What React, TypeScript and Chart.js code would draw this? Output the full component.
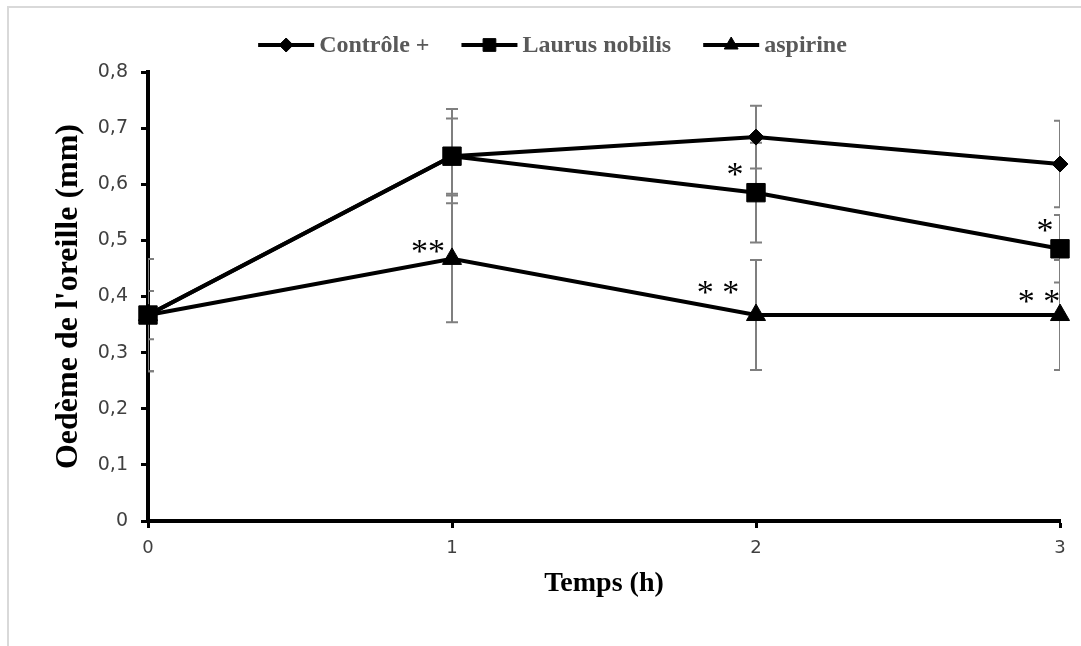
import React, { useEffect, useRef } from "react";
import { Chart, registerables } from "chart.js";
import { drawPoint } from "chart.js/helpers";

Chart.register(...registerables);

// ---------- data ----------
const times = [0, 1, 2, 3];
const seriesNames = ["Contrôle +", "Laurus nobilis", "aspirine"];
const controle = [0.367, 0.65, 0.684, 0.636];
const laurus = [0.367, 0.65, 0.585, 0.485];
const aspirine = [0.367, 0.467, 0.367, 0.367];
const controleErr = [0.1, 0.084, 0.056, 0.077];
const laurusErr = [0.043, 0.067, 0.089, 0.06];
const aspirineErr = [0.1, 0.113, 0.098, 0.098];
const xTickLabels = ["0", "1", "2", "3"];
const yTickLabels = ["0", "0,1", "0,2", "0,3", "0,4", "0,5", "0,6", "0,7", "0,8"];
const sigSeries = [2, 1, 2, 1, 2];
const sigIndex = [1, 2, 2, 3, 3];
const sigText = ["**", "*", "* *", "*", "* *"];
const xTitle = "Temps (h)";
const yTitle = "Oedème de l'oreille (mm)";

// ---------- styles ----------
const seriesValues = [controle, laurus, aspirine];
const seriesErrors = [controleErr, laurusErr, aspirineErr];
const pointStyles = ["rectRot", "rect", "triangle"];
const pointRadii = [8, 13, 11];
const legendRadii = [7, 9, 8];
const sigFontSize = 34;
const sigOffsets = [
  [-24, -14],
  [-21, -24],
  [-38, -29],
  [-15, -24],
  [-21, -20],
];

const customPlugin = {
  id: "custom",
  beforeDatasetsDraw(chart: any) {
    const { ctx, chartArea } = chart;
    const xs = chart.scales.x;
    const ys = chart.scales.y;
    ctx.save();
    ctx.beginPath();
    ctx.rect(chartArea.left, chartArea.top - 30, chartArea.right - chartArea.left, chartArea.bottom - chartArea.top + 60);
    ctx.clip();
    ctx.strokeStyle = "#7f7f7f";
    ctx.lineWidth = 2;
    seriesValues.forEach((vals, s) => {
      vals.forEach((v, i) => {
        const e = seriesErrors[s][i];
        const px = xs.getPixelForValue(times[i]);
        const top = ys.getPixelForValue(v + e);
        const bot = ys.getPixelForValue(v - e);
        ctx.beginPath();
        ctx.moveTo(px, top);
        ctx.lineTo(px, bot);
        ctx.moveTo(px - 6, top);
        ctx.lineTo(px + 6, top);
        ctx.moveTo(px - 6, bot);
        ctx.lineTo(px + 6, bot);
        ctx.stroke();
      });
    });
    ctx.restore();
  },
  afterDraw(chart: any) {
    const { ctx, chartArea, width } = chart;
    const xs = chart.scales.x;
    const ys = chart.scales.y;
    ctx.save();
    // significance asterisks
    ctx.fillStyle = "#000";
    ctx.font = `${sigFontSize}px 'Liberation Serif', serif`;
    ctx.textAlign = "center";
    ctx.textBaseline = "alphabetic";
    sigText.forEach((t, k) => {
      const s = sigSeries[k];
      const i = sigIndex[k];
      const px = xs.getPixelForValue(times[i]) + sigOffsets[k][0];
      const py = ys.getPixelForValue(seriesValues[s][i]) + sigOffsets[k][1];
      ctx.fillText(t, px, py + sigFontSize * 0.49);
    });
    // axis titles
    ctx.font = "bold 28px 'Liberation Serif', serif";
    ctx.textBaseline = "middle";
    ctx.fillText(xTitle, (chartArea.left + chartArea.right) / 2, 584);
    ctx.save();
    ctx.translate(69, (chartArea.top + chartArea.bottom) / 2);
    ctx.rotate(-Math.PI / 2);
    ctx.font = "bold 32px 'Liberation Serif', serif";
    ctx.fillText(yTitle, 0, 0);
    ctx.restore();
    // legend
    ctx.font = "bold 24px 'Liberation Serif', serif";
    const lineLen = 56;
    const gap = 5;
    const spacing = 32;
    const widths = seriesNames.map((n) => ctx.measureText(n).width);
    const total = widths.reduce((a, b) => a + b, 0) + seriesNames.length * (lineLen + gap) + spacing * (seriesNames.length - 1);
    let x = width / 2 + 12 - total / 2;
    const ly = 45;
    seriesNames.forEach((n, s) => {
      ctx.strokeStyle = "#000";
      ctx.lineWidth = 4;
      ctx.beginPath();
      ctx.moveTo(x, ly);
      ctx.lineTo(x + lineLen, ly);
      ctx.stroke();
      ctx.fillStyle = "#000";
      ctx.lineWidth = 1;
      drawPoint(ctx, { pointStyle: pointStyles[s], radius: legendRadii[s], rotation: 0, borderWidth: 1 } as any, x + lineLen / 2, ly);
      ctx.fillStyle = "#595959";
      ctx.textAlign = "left";
      ctx.textBaseline = "middle";
      ctx.fillText(n, x + lineLen + gap, ly + 1);
      x += lineLen + gap + widths[s] + spacing;
    });
    ctx.restore();
  },
};

export default function App() {
  const ref = useRef<HTMLCanvasElement | null>(null);
  useEffect(() => {
    if (!ref.current) return;
    const chart = new Chart(ref.current, {
      type: "line",
      data: {
        datasets: seriesNames.map((name, s) => ({
          label: name,
          data: times.map((t, i) => ({ x: t, y: seriesValues[s][i] })),
          borderColor: "#000",
          backgroundColor: "#000",
          borderWidth: 4,
          pointStyle: pointStyles[s] as any,
          pointRadius: pointRadii[s],
          pointBackgroundColor: "#000",
          pointBorderColor: "#000",
          pointBorderWidth: 1,
          tension: 0,
          clip: false as any,
        })),
      },
      options: {
        animation: false,
        responsive: false,
        devicePixelRatio: 1,
        layout: { padding: { top: 72, right: 21, left: 0, bottom: 0 } },
        plugins: { legend: { display: false }, tooltip: { enabled: false } },
        scales: {
          x: {
            type: "linear",
            min: 0,
            max: 3,
            afterFit: (scale: any) => {
              scale.height = 125;
            },
            ticks: {
              stepSize: 1,
              padding: 10,
              color: "#404040",
              font: { family: "'DejaVu Sans', sans-serif", size: 18 },
              callback: (v: any) => xTickLabels[Math.round(Number(v))],
            },
            grid: { display: true, drawOnChartArea: false, drawTicks: true, tickLength: 7, tickWidth: 3, tickColor: "#000" },
            border: { display: true, color: "#000", width: 4 },
          },
          y: {
            type: "linear",
            min: 0,
            max: 0.8,
            afterFit: (scale: any) => {
              scale.width = 148;
            },
            ticks: {
              stepSize: 0.1,
              padding: 13,
              color: "#404040",
              font: { family: "'DejaVu Sans', sans-serif", size: 19 },
              callback: (v: any) => yTickLabels[Math.round(Number(v) * 10)],
            },
            grid: { display: true, drawOnChartArea: false, drawTicks: true, tickLength: 7, tickWidth: 3, tickColor: "#000" },
            border: { display: true, color: "#000", width: 4 },
          },
        },
      },
      plugins: [customPlugin],
    });
    return () => chart.destroy();
  }, []);

  return (
    <div style={{ position: "fixed", left: 0, top: 0, width: 1081, height: 646, background: "#fff" }}>
      <canvas ref={ref} width={1081} height={646} style={{ position: "absolute", left: 0, top: 0 }} />
      <div
        style={{
          position: "absolute",
          left: 7,
          top: 6,
          right: 0,
          bottom: 0,
          borderTop: "2px solid #d9d9d9",
          borderLeft: "2px solid #d9d9d9",
          pointerEvents: "none",
        }}
      />
    </div>
  );
}
